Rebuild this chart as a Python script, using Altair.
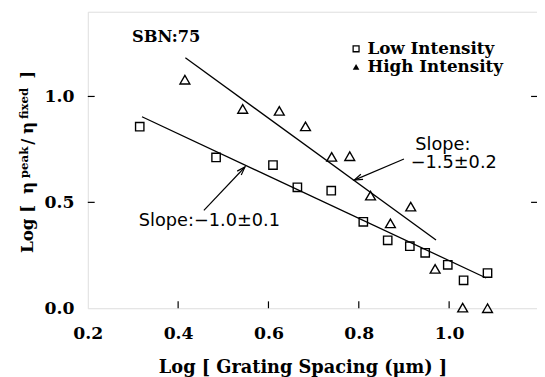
import math
import altair as alt
import pandas as pd

# ---- data ----
low_x = [0.315, 0.484, 0.610, 0.664, 0.739, 0.810, 0.864, 0.913, 0.947, 0.997, 1.032, 1.085]
low_y = [0.857, 0.712, 0.676, 0.571, 0.555, 0.408, 0.321, 0.293, 0.262, 0.205, 0.132, 0.166]
high_x = [0.415, 0.543, 0.624, 0.682, 0.740, 0.780, 0.826, 0.870, 0.915, 0.969, 1.030, 1.085]
high_y = [1.079, 0.941, 0.932, 0.859, 0.715, 0.718, 0.532, 0.401, 0.480, 0.186, 0.003, 0.000]

fit_low_x = [0.320, 1.082]
fit_low_y = [0.904, 0.143]
fit_high_x = [0.416, 0.971]
fit_high_y = [1.183, 0.322]

x_ticks = [0.2, 0.4, 0.6, 0.8, 1.0]
y_ticks = [0.0, 0.5, 1.0]

# annotations
note_text = ["SBN:75", "Slope:", "\u22121.5\u00b10.2", "Slope:\u22121.0\u00b10.1"]
note_x = [0.298, 0.925, 0.915, 0.313]
note_y = [1.279, 0.772, 0.684, 0.411]

arrow_x1 = [0.900, 0.457]
arrow_y1 = [0.705, 0.462]
arrow_x2 = [0.790, 0.548]
arrow_y2 = [0.605, 0.667]

legend_labels = ["Low Intensity", "High Intensity"]
legend_x = 0.794
legend_tx = 0.819
legend_y = [1.225, 1.140]

# y-axis title pieces (rotated), page-pixel anchor positions
ytitle_text = ["Log [", "\u03b7", "peak", "/", "\u03b7", "fixed", "]"]
ytitle_px = [33, 33, 28, 33, 33, 28, 33]
ytitle_py = [254, 194, 178, 144, 133, 118, 77]
ytitle_size = [17, 17, 12, 17, 17, 12, 17]

# ---- layout ----
W, H = 456, 301
LEFT, TOP = 89, 9           # page position of plot area
XMIN, XMAX = 0.2, 0.2 + W / 458.5
YMIN, YMAX = 0.0, 1.4
sx = W / (XMAX - XMIN)
sy = H / (YMAX - YMIN)

xs = alt.Scale(domain=[XMIN, XMAX], nice=False, zero=False)
ys = alt.Scale(domain=[YMIN, YMAX], nice=False, zero=False)

serif = "DejaVu Serif"

x_axis = alt.Axis(values=x_ticks, format=".1f", ticks=False, tickSize=0, domain=False, grid=False,
                  labelFont=serif, labelFontSize=17.5, labelFontWeight="bold", labelColor="black",
                  labelPadding=17, labelFlush=False,
                  title="Log [ Grating Spacing (\u03bcm) ]", titleFont=serif, titleFontSize=18,
                  titleFontWeight="bold", titleColor="black", titlePadding=17, titleX=218,
                  titleAlign="center")
y_axis = alt.Axis(values=y_ticks, format=".1f", ticks=False, tickSize=0, domain=False, grid=False,
                  labelFont=serif, labelFontSize=17.5, labelFontWeight="bold", labelColor="black",
                  labelPadding=14, labelFlush=False, title=None)

low_df = pd.DataFrame({"x": low_x, "y": low_y})
high_df = pd.DataFrame({"x": high_x, "y": high_y})
fit_df = pd.DataFrame({
    "x": fit_low_x + fit_high_x,
    "y": fit_low_y + fit_high_y,
    "fit": ["low", "low", "high", "high"],
})

squares = alt.Chart(low_df).mark_point(shape="square", filled=False, color="black", size=72,
                                       strokeWidth=1.4, opacity=1).encode(
    x=alt.X("x:Q", scale=xs, axis=x_axis),
    y=alt.Y("y:Q", scale=ys, axis=y_axis),
)
triangles = alt.Chart(high_df).mark_point(shape="triangle-up", filled=False, color="black", size=100,
                                          strokeWidth=1.4, opacity=1).encode(
    x=alt.X("x:Q", scale=xs), y=alt.Y("y:Q", scale=ys))

fits = alt.Chart(fit_df).mark_line(color="black", strokeWidth=1.3).encode(
    x=alt.X("x:Q", scale=xs), y=alt.Y("y:Q", scale=ys), detail="fit:N")

notes_df = pd.DataFrame({"t": note_text, "x": note_x, "y": note_y})
sbn = alt.Chart(notes_df.iloc[:1]).mark_text(align="left", baseline="middle", font=serif, fontSize=16.5,
                                              fontWeight="bold", color="black").encode(
    x=alt.X("x:Q", scale=xs), y=alt.Y("y:Q", scale=ys), text="t:N")
slopes = alt.Chart(notes_df.iloc[1:]).mark_text(align="left", baseline="middle", font="DejaVu Sans",
                                                 fontSize=18, color="black").encode(
    x=alt.X("x:Q", scale=xs), y=alt.Y("y:Q", scale=ys), text="t:N")

angles = []
for x1, y1, x2, y2 in zip(arrow_x1, arrow_y1, arrow_x2, arrow_y2):
    dx = (x2 - x1) * sx
    dy = -(y2 - y1) * sy
    angles.append(math.degrees(math.atan2(dx, -dy)) % 360)
arrow_df = pd.DataFrame({"x1": arrow_x1, "y1": arrow_y1, "x2": arrow_x2, "y2": arrow_y2, "a": angles})
shafts = alt.Chart(arrow_df).mark_rule(color="black", strokeWidth=1.2).encode(
    x=alt.X("x1:Q", scale=xs), y=alt.Y("y1:Q", scale=ys), x2="x2:Q", y2="y2:Q")
heads = alt.Chart(arrow_df).mark_point(shape="M-0.4,1.2L0,0L0.4,1.2", filled=False, color="black",
                                       size=200, strokeWidth=1.2, opacity=1).encode(
    x=alt.X("x2:Q", scale=xs), y=alt.Y("y2:Q", scale=ys), angle=alt.Angle("a:Q", scale=None))

leg_df = pd.DataFrame({"t": legend_labels, "y": legend_y, "x": [legend_x] * 2, "tx": [legend_tx] * 2})
leg_sq = alt.Chart(leg_df.iloc[:1]).mark_point(shape="square", filled=False, color="black", size=36,
                                               strokeWidth=1.3, opacity=1).encode(
    x=alt.X("x:Q", scale=xs), y=alt.Y("y:Q", scale=ys))
leg_tri = alt.Chart(leg_df.iloc[1:]).mark_point(shape="triangle-up", filled=True, color="black", size=45,
                                                opacity=1).encode(
    x=alt.X("x:Q", scale=xs), y=alt.Y("y:Q", scale=ys))
leg_txt = alt.Chart(leg_df).mark_text(align="left", baseline="middle", font=serif, fontSize=17,
                                      fontWeight="bold", color="black").encode(
    x=alt.X("tx:Q", scale=xs), y=alt.Y("y:Q", scale=ys), text="t:N")

# inner ticks
xt_df = pd.DataFrame({"v": x_ticks[1:]})
yt_df = pd.DataFrame({"v": y_ticks[1:]})
xticks = alt.Chart(xt_df).mark_rule(color="black", strokeWidth=1.2).encode(
    x=alt.X("v:Q", scale=xs), y=alt.value(H), y2=alt.value(H - 7))
yticks_l = alt.Chart(yt_df).mark_rule(color="black", strokeWidth=1.2).encode(
    y=alt.Y("v:Q", scale=ys), x=alt.value(0), x2=alt.value(7))
yticks_r = alt.Chart(yt_df).mark_rule(color="black", strokeWidth=1.2).encode(
    y=alt.Y("v:Q", scale=ys), x=alt.value(W), x2=alt.value(W - 6))

# rotated y-axis title built from pieces (to get real superscripts)
ytitle_layers = []
for t, px, py, fs in zip(ytitle_text, ytitle_px, ytitle_py, ytitle_size):
    ytitle_layers.append(
        alt.Chart(pd.DataFrame({"t": [t]})).mark_text(
            align="left", baseline="alphabetic", angle=270, font=serif, fontSize=fs,
            fontWeight="bold", color="black"
        ).encode(x=alt.value(px - LEFT), y=alt.value(py - TOP), text="t:N")
    )

chart = alt.layer(
    xticks, yticks_l, yticks_r, fits, shafts, heads, squares, triangles, sbn, slopes,
    leg_sq, leg_tri, leg_txt, *ytitle_layers
).properties(
    width=W, height=H,
    padding={"left": LEFT - 8, "top": TOP - 8, "right": 0, "bottom": 67},
    autosize=alt.AutoSizeParams(type="none"),
).configure_view(
    stroke="black", strokeWidth=1.6
).configure(background="white")

chart.save("out.html", embed_options={"renderer": "svg", "actions": False})
